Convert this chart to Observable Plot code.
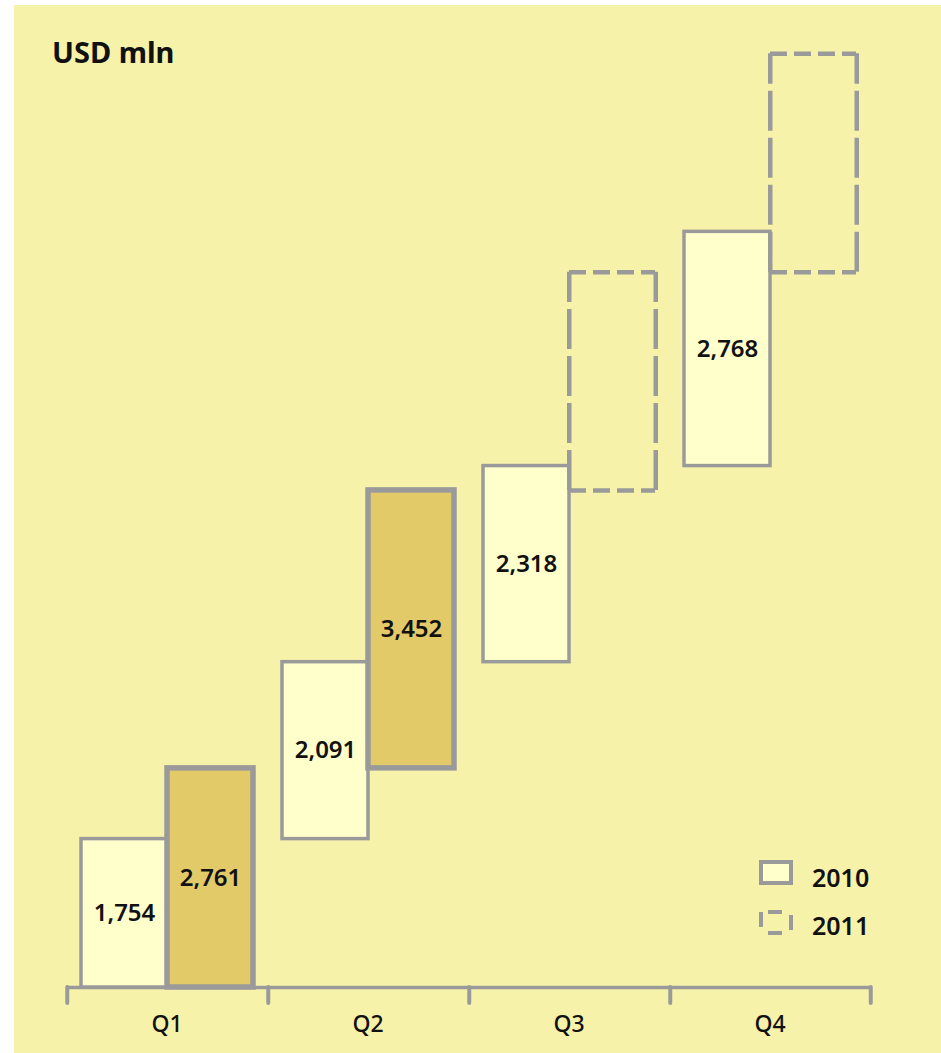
<!DOCTYPE html>
<html>
<head>
<meta charset="utf-8">
<script src="https://cdn.jsdelivr.net/npm/d3@7"></script>
<script src="https://cdn.jsdelivr.net/npm/@observablehq/plot@0.6"></script>
<style>
  html, body { margin: 0; padding: 0; background: #ffffff; }
  #panel { position: absolute; left: 14px; top: 5px; width: 927px; height: 1048px;
           background: #F7F2A9; overflow: hidden; font-family: "Noto Sans", sans-serif; }
  #chart svg { display: block; }
  #title { position: absolute; left: 38px; top: 33px; font-size: 29px; line-height: 28px;
           font-weight: 700; color: #111; }
  #legend { position: absolute; left: 0; top: 0; overflow: visible; }
</style>
</head>
<body>
<div id="panel">
  <div id="chart"></div>
  <div id="title">USD mln</div>
  <svg id="legend" width="927" height="1048"></svg>
</div>
<script>
// ---- data ----
const quarters = ["Q1", "Q2", "Q3", "Q4"];
const years = ["2010", "2011"];
const sales2010 = [1754, 2091, 2318, 2768];          // labelled 2010 values
const sales2011 = [2761, 3452];                      // labelled 2011 values (Q1, Q2)
const drawn2011 = [2590, 3285, 2580, 2580];          // 2011 bar heights as drawn (Q3, Q4 = dashed outlook)
const legendItems = ["2010", "2011"];

// ---- styles ----
const GRAY = "#9a9a9a";
const FILL2010 = "#FFFFCC";
const FILL2011 = "#E2CA68";
const tickLen = 190; // axis tick length, in y units

function cumulate(values, year, labels) {
  let acc = 0;
  return values.map((v, i) => {
    const r = {quarter: quarters[i], year, y1: acc, y2: acc + v, label: labels[i]};
    acc += v;
    return r;
  });
}
const rows2010 = cumulate(sales2010, "2010", sales2010);
const rows2011 = cumulate(drawn2011, "2011", sales2011);
const solid2011 = rows2011.filter(r => r.label != null);
const dashed2011 = rows2011.filter(r => r.label == null);
const labelled = [...rows2010, ...solid2011];
const fmt = d3.format(",");

const chart = Plot.plot({
  width: 927,
  height: 1048,
  marginLeft: 52,
  marginRight: 71,
  marginTop: 20,
  marginBottom: 66,
  style: {background: "none", fontFamily: "Noto Sans, sans-serif", overflow: "visible"},
  fx: {domain: quarters, padding: 0, axis: null, label: null},
  x: {domain: years, paddingInner: 0, paddingOuter: 0.162, axis: null, label: null},
  y: {domain: [0, 11370], axis: null, label: null},
  marks: [
    Plot.ruleY([0], {stroke: GRAY, strokeWidth: 3.5}),
    Plot.ruleX(quarters, {fx: d => d, x: () => "2010", y1: 0, y2: -tickLen, dx: -57.25,
      stroke: GRAY, strokeWidth: 4, strokeLinecap: "round"}),
    Plot.ruleX(["Q4"], {fx: d => d, x: () => "2011", y1: 0, y2: -tickLen, dx: 57.25,
      stroke: GRAY, strokeWidth: 4, strokeLinecap: "round"}),
    Plot.barY(rows2010, {fx: "quarter", x: "year", y1: "y1", y2: "y2",
      fill: FILL2010, stroke: GRAY, strokeWidth: 3.5}),
    Plot.tickY(dashed2011, {fx: "quarter", x: "year", y: "y1",
      stroke: GRAY, strokeWidth: 4.5, strokeDasharray: "17,7"}),
    Plot.tickY(dashed2011, {fx: "quarter", x: "year", y: "y2",
      stroke: GRAY, strokeWidth: 4.5, strokeDasharray: "17,7"}),
    Plot.ruleX(dashed2011, {fx: "quarter", x: "year", y1: "y1", y2: "y2", dx: -43.25,
      stroke: GRAY, strokeWidth: 4.5, strokeDasharray: "40,7"}),
    Plot.ruleX(dashed2011, {fx: "quarter", x: "year", y1: "y1", y2: "y2", dx: 43.25,
      stroke: GRAY, strokeWidth: 4.5, strokeDasharray: "40,7"}),
    Plot.barY(solid2011, {fx: "quarter", x: "year", y1: "y1", y2: "y2",
      fill: FILL2011, stroke: GRAY, strokeWidth: 5.5}),
    Plot.text(labelled, {fx: "quarter", x: "year", y: d => (d.y1 + d.y2) / 2,
      text: d => fmt(d.label), fontSize: 24, fontWeight: 600, fill: "#111"}),
    Plot.text(quarters, {fx: d => d, text: d => d, frameAnchor: "bottom", dy: 44,
      fontSize: 23, fontWeight: 500, fill: "#111"})
  ]
});
document.getElementById("chart").appendChild(chart);

// ---- legend ----
const lg = d3.select("#legend");
const items = lg.selectAll("g").data(legendItems).join("g")
  .attr("transform", (d, i) => `translate(0, ${i * 48})`);
items.filter((d, i) => i === 0).append("rect")
  .attr("x", 747).attr("y", 857).attr("width", 30).attr("height", 21)
  .attr("fill", FILL2010).attr("stroke", GRAY).attr("stroke-width", 4);
const dashG = items.filter((d, i) => i === 1).append("g")
  .attr("stroke", GRAY).attr("stroke-width", 4).attr("fill", "none");
dashG.append("line").attr("x1", 754).attr("x2", 768).attr("y1", 859).attr("y2", 859);
dashG.append("line").attr("x1", 754).attr("x2", 768).attr("y1", 880).attr("y2", 880);
dashG.append("line").attr("x1", 747).attr("x2", 747).attr("y1", 859).attr("y2", 874);
dashG.append("line").attr("x1", 777).attr("x2", 777).attr("y1", 862).attr("y2", 877);
items.append("text")
  .attr("x", 798).attr("y", 882)
  .attr("font-family", "Noto Sans, sans-serif").attr("font-size", 25).attr("font-weight", 600)
  .attr("fill", "#111")
  .text(d => d);
</script>
</body>
</html>
